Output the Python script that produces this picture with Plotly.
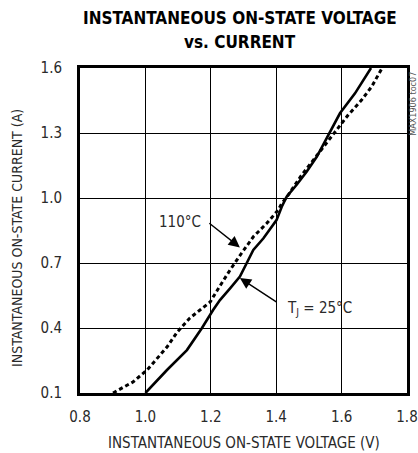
import plotly.graph_objects as go

# 25°C curve (solid)
v_25 = [1.0, 1.066, 1.127, 1.173, 1.207, 1.228, 1.259, 1.289, 1.31, 1.33, 1.361, 1.401,
        1.417, 1.432, 1.462, 1.493, 1.524, 1.559, 1.595, 1.641, 1.666, 1.69]
i_25 = [0.1, 0.206, 0.298, 0.4, 0.483, 0.529, 0.583, 0.637, 0.7, 0.76, 0.814, 0.898,
        0.96, 1.006, 1.06, 1.121, 1.19, 1.29, 1.391, 1.483, 1.544, 1.6]

# 110°C curve (dashed)
v_110 = [0.901, 0.962, 1.005, 1.024, 1.066, 1.097, 1.136, 1.167, 1.198, 1.218, 1.259, 1.294,
         1.33, 1.371, 1.406, 1.417, 1.433, 1.475, 1.513, 1.544, 1.585, 1.62, 1.661, 1.692, 1.724]
i_110 = [0.1, 0.151, 0.206, 0.238, 0.312, 0.381, 0.446, 0.483, 0.52, 0.57, 0.668, 0.745,
         0.821, 0.883, 0.944, 0.975, 1.005, 1.10, 1.175, 1.237, 1.314, 1.383, 1.452, 1.514, 1.6]

x_ticks = [0.8, 1.0, 1.2, 1.4, 1.6, 1.8]
x_tick_labels = ["0.8", "1.0", "1.2", "1.4", "1.6", "1.8"]
y_ticks = [0.1, 0.4, 0.7, 1.0, 1.3, 1.6]
y_tick_labels = ["0.1", "0.4", "0.7", "1.0", "1.3", "1.6"]

title_line1 = "INSTANTANEOUS ON-STATE VOLTAGE"
title_line2 = "vs. CURRENT"
x_title = "INSTANTANEOUS ON-STATE VOLTAGE (V)"
y_title = "INSTANTANEOUS ON-STATE CURRENT (A)"
label_110 = "110°C"
label_25 = "T<sub>J</sub> = 25°C"
code_label = "MAX1906 toc07"

FONT = "DejaVu Sans Condensed, Liberation Sans, sans-serif"
TXT = "#2a2a2a"

fig = go.Figure()
fig.add_trace(go.Scatter(x=v_110, y=i_110, mode="lines",
                         line=dict(color="black", width=3, dash="4px,3px"),
                         showlegend=False, hoverinfo="skip"))
fig.add_trace(go.Scatter(x=v_25, y=i_25, mode="lines",
                         line=dict(color="black", width=2.6),
                         showlegend=False, hoverinfo="skip"))

fig.update_layout(
    width=418, height=453, autosize=False,
    margin=dict(l=80, r=11, t=68, b=60),
    paper_bgcolor="white", plot_bgcolor="white",
    font=dict(family=FONT, size=15, color=TXT),
    showlegend=False, hovermode=False,
)
fig.update_xaxes(range=[0.8, 1.8], tickvals=x_ticks, ticktext=x_tick_labels,
                 showgrid=True, gridcolor="black", gridwidth=1,
                 showline=True, linecolor="black", linewidth=3, mirror=True,
                 ticks="", ticklabelstandoff=8, zeroline=False, automargin=False,
                 tickfont=dict(family=FONT, size=15, color=TXT))
fig.update_yaxes(range=[0.1, 1.6], tickvals=y_ticks, ticktext=y_tick_labels,
                 showgrid=True, gridcolor="black", gridwidth=1,
                 showline=True, linecolor="black", linewidth=3, mirror=True,
                 ticks="", ticklabelstandoff=12, zeroline=False, automargin=False,
                 tickfont=dict(family=FONT, size=15, color=TXT))

ann = []
ann.append(dict(text="<b>" + title_line1 + "</b>", xref="paper", yref="paper",
                x=0.49, y=1.0, yshift=50, xanchor="center", yanchor="middle",
                showarrow=False, font=dict(family=FONT, size=17, color="black")))
ann.append(dict(text="<b>" + title_line2 + "</b>", xref="paper", yref="paper",
                x=0.49, y=1.0, yshift=26, xanchor="center", yanchor="middle",
                showarrow=False, font=dict(family=FONT, size=17, color="black")))
ann.append(dict(text=x_title, xref="paper", yref="paper", x=0.5, y=0, yshift=-50,
                xanchor="center", yanchor="middle", showarrow=False,
                font=dict(family=FONT, size=15, color=TXT)))
ann.append(dict(text=y_title, xref="paper", yref="paper", x=0, xshift=-63, y=0.477,
                xanchor="center", yanchor="middle", textangle=-90, showarrow=False,
                font=dict(family=FONT, size=14, color=TXT)))
ann.append(dict(text=code_label, xref="paper", yref="paper", x=1, xshift=6, y=0.89,
                xanchor="center", yanchor="middle", textangle=-90, showarrow=False,
                font=dict(family=FONT, size=9, color="#555")))
ann.append(dict(text=label_110, x=1.176, y=0.889, xref="x", yref="y",
                xanchor="right", yanchor="middle", showarrow=False,
                font=dict(family=FONT, size=15, color=TXT)))
ann.append(dict(text="", x=1.289, y=0.772, ax=1.191, ay=0.889, xref="x", yref="y",
                axref="x", ayref="y", showarrow=True, arrowhead=2, arrowsize=1.6,
                arrowwidth=1.4, arrowcolor="black"))
ann.append(dict(text=label_25, x=1.427, y=0.492, xref="x", yref="y",
                xanchor="left", yanchor="middle", showarrow=False,
                font=dict(family=FONT, size=15, color=TXT)))
ann.append(dict(text="", x=1.289, y=0.631, ax=1.406, ay=0.515, xref="x", yref="y",
                axref="x", ayref="y", showarrow=True, arrowhead=2, arrowsize=1.6,
                arrowwidth=1.4, arrowcolor="black"))
fig.update_layout(annotations=ann)

# remove the default 8px page margin and scrollbars so the figure fills the window exactly
fig.write_html(
    "out.html",
    config={"displayModeBar": False, "staticPlot": True},
    post_script=("document.documentElement.style.overflow='hidden';"
                 "document.body.style.overflow='hidden';"
                 "document.body.style.margin='0';"),
)
